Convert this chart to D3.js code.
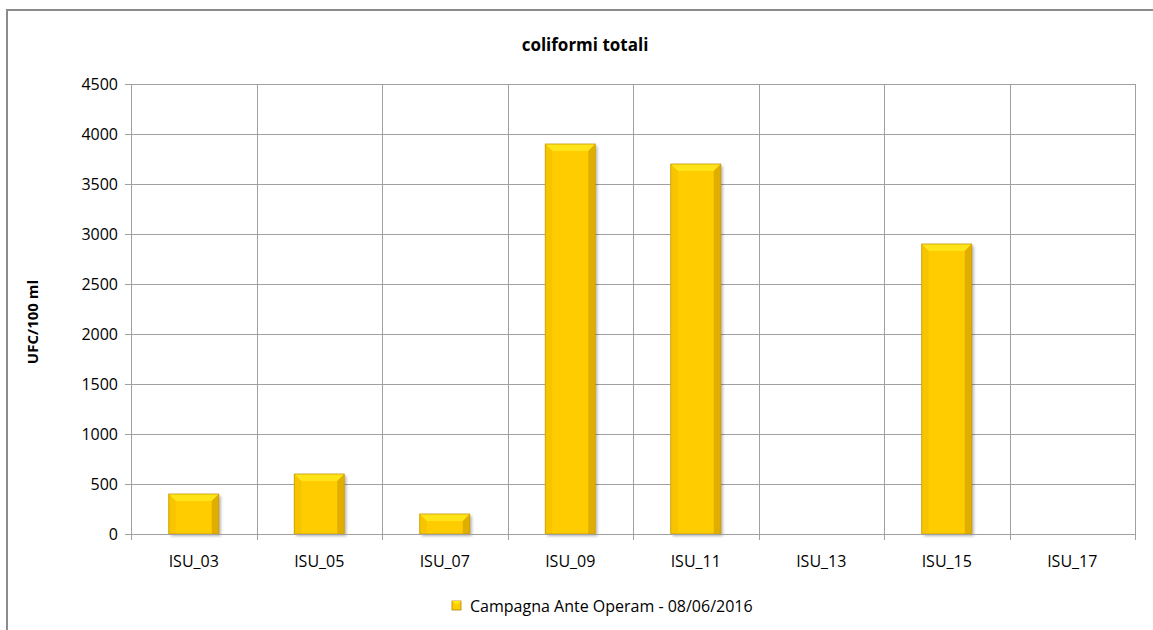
<!DOCTYPE html>
<html>
<head>
<meta charset="utf-8">
<script src="https://cdn.jsdelivr.net/npm/d3@7"></script>
<style>
  html, body { margin: 0; padding: 0; background: #fff; overflow: hidden; }
  svg { display: block; }
  text { font-family: "Open Sans", "Liberation Sans", sans-serif; }
</style>
</head>
<body>
<div id="chart"></div>
<script>
// data
const categories = ["ISU_03", "ISU_05", "ISU_07", "ISU_09", "ISU_11", "ISU_13", "ISU_15", "ISU_17"];
const values = [400, 600, 200, 3900, 3700, 0, 2900, 0];
const yTicks = [0, 500, 1000, 1500, 2000, 2500, 3000, 3500, 4000, 4500];
const seriesName = "Campagna Ante Operam - 08/06/2016";
const chartTitle = "coliformi totali";
const yLabel = "UFC/100 ml";

const width = 1153, height = 630;
const margin = { top: 84, right: 18, bottom: 96, left: 131 };
const innerW = width - margin.left - margin.right;
const innerH = height - margin.top - margin.bottom;

const svg = d3.select("#chart").append("svg")
  .attr("width", width).attr("height", height);

const defs = svg.append("defs");
const shadow = defs.append("filter").attr("id", "shadow")
  .attr("x", "-20%").attr("y", "-20%").attr("width", "150%").attr("height", "150%");
shadow.append("feDropShadow").attr("dx", 2).attr("dy", 2).attr("stdDeviation", 1.5)
  .attr("flood-color", "#000").attr("flood-opacity", 0.3);

// outer chart frame: only top and left edges are inside the picture
svg.append("line").attr("x1", 6).attr("x2", width).attr("y1", 10).attr("y2", 10)
  .attr("stroke", "#8c8c8c").attr("stroke-width", 2);
svg.append("line").attr("x1", 7).attr("x2", 7).attr("y1", 9).attr("y2", height)
  .attr("stroke", "#8c8c8c").attr("stroke-width", 2);

const g = svg.append("g").attr("transform", `translate(${margin.left},${margin.top})`);

const x = d3.scaleBand().domain(categories).range([0, innerW]).paddingInner(0).paddingOuter(0);
const y = d3.scaleLinear().domain([0, 4500]).range([innerH, 0]);

// horizontal gridlines
g.append("g").selectAll("line").data(yTicks).join("line")
  .attr("x1", 0).attr("x2", innerW)
  .attr("y1", d => Math.round(y(d)) + 0.5).attr("y2", d => Math.round(y(d)) + 0.5)
  .attr("stroke", "#a0a0a0").attr("stroke-width", 1);

// vertical gridlines at category boundaries
const bounds = categories.map(c => x(c)).concat([innerW]);
g.append("g").selectAll("line").data(bounds).join("line")
  .attr("x1", d => Math.round(d) + 0.5).attr("x2", d => Math.round(d) + 0.5)
  .attr("y1", 0).attr("y2", innerH + 6)
  .attr("stroke", "#a0a0a0").attr("stroke-width", 1);

// y axis
const yAxis = g.append("g")
  .call(d3.axisLeft(y).tickValues(yTicks).tickFormat(d3.format("d")).tickSize(6).tickPadding(7));
yAxis.select(".domain").attr("stroke", "#a0a0a0");
yAxis.selectAll(".tick line").attr("stroke", "#a0a0a0");
yAxis.selectAll("text").attr("font-size", 16).attr("fill", "#000")
  .attr("font-family", "Open Sans, sans-serif");

// x labels
g.append("g").selectAll("text").data(categories).join("text")
  .attr("x", d => x(d) + x.bandwidth() / 2)
  .attr("y", innerH + 33)
  .attr("text-anchor", "middle")
  .attr("font-size", 16)
  .text(d => d);

// bars with bevel
const barW = 50;
const bev = 7;
const bars = g.append("g").selectAll("g").data(categories.map((c, i) => ({ c, v: values[i] })).filter(d => d.v > 0))
  .join("g")
  .attr("transform", d => `translate(${x(d.c) + x.bandwidth() / 2 - barW / 2},${y(d.v)})`);

bars.append("rect")
  .attr("width", barW).attr("height", d => innerH - y(d.v))
  .attr("fill", "#ffcc00").attr("filter", "url(#shadow)");
// top bevel
bars.append("path")
  .attr("d", `M0,0 L${barW},0 L${barW - bev},${bev} L${bev},${bev} Z`)
  .attr("fill", "#ffe41a");
// left bevel
bars.append("path")
  .attr("d", d => { const h = innerH - y(d.v); return `M0,0 L${bev},${bev} L${bev},${h} L0,${h} Z`; })
  .attr("fill", "#f7c400");
// right bevel
bars.append("path")
  .attr("d", d => { const h = innerH - y(d.v); return `M${barW},0 L${barW - bev},${bev} L${barW - bev},${h} L${barW},${h} Z`; })
  .attr("fill", "#e0ae00");
// edge
bars.append("rect")
  .attr("width", barW).attr("height", d => innerH - y(d.v))
  .attr("fill", "none").attr("stroke", "#c99a00").attr("stroke-width", 0.8);

// x axis baseline
g.append("line")
  .attr("x1", 0).attr("x2", innerW)
  .attr("y1", innerH + 0.5).attr("y2", innerH + 0.5)
  .attr("stroke", "#a0a0a0");

// title
svg.append("text")
  .attr("x", 585).attr("y", 51)
  .attr("text-anchor", "middle")
  .attr("font-size", 17).attr("font-weight", "bold")
  .text(chartTitle);

// y axis label
svg.append("text")
  .attr("transform", "translate(38,322) rotate(-90)")
  .attr("text-anchor", "middle")
  .attr("font-size", 15).attr("font-weight", "bold")
  .text(yLabel);

// legend
const lg = svg.append("g").attr("transform", "translate(452,601)");
lg.append("rect").attr("width", 9).attr("height", 9).attr("fill", "#ffcc00").attr("stroke", "#b08600").attr("stroke-width", 0.8);
lg.append("path").attr("d", "M0,0 L9,0 L6,3 L3,3 Z").attr("fill", "#ffe41a");
lg.append("text").attr("x", 18).attr("y", 11).attr("font-size", 16).text(seriesName);
</script>
</body>
</html>
